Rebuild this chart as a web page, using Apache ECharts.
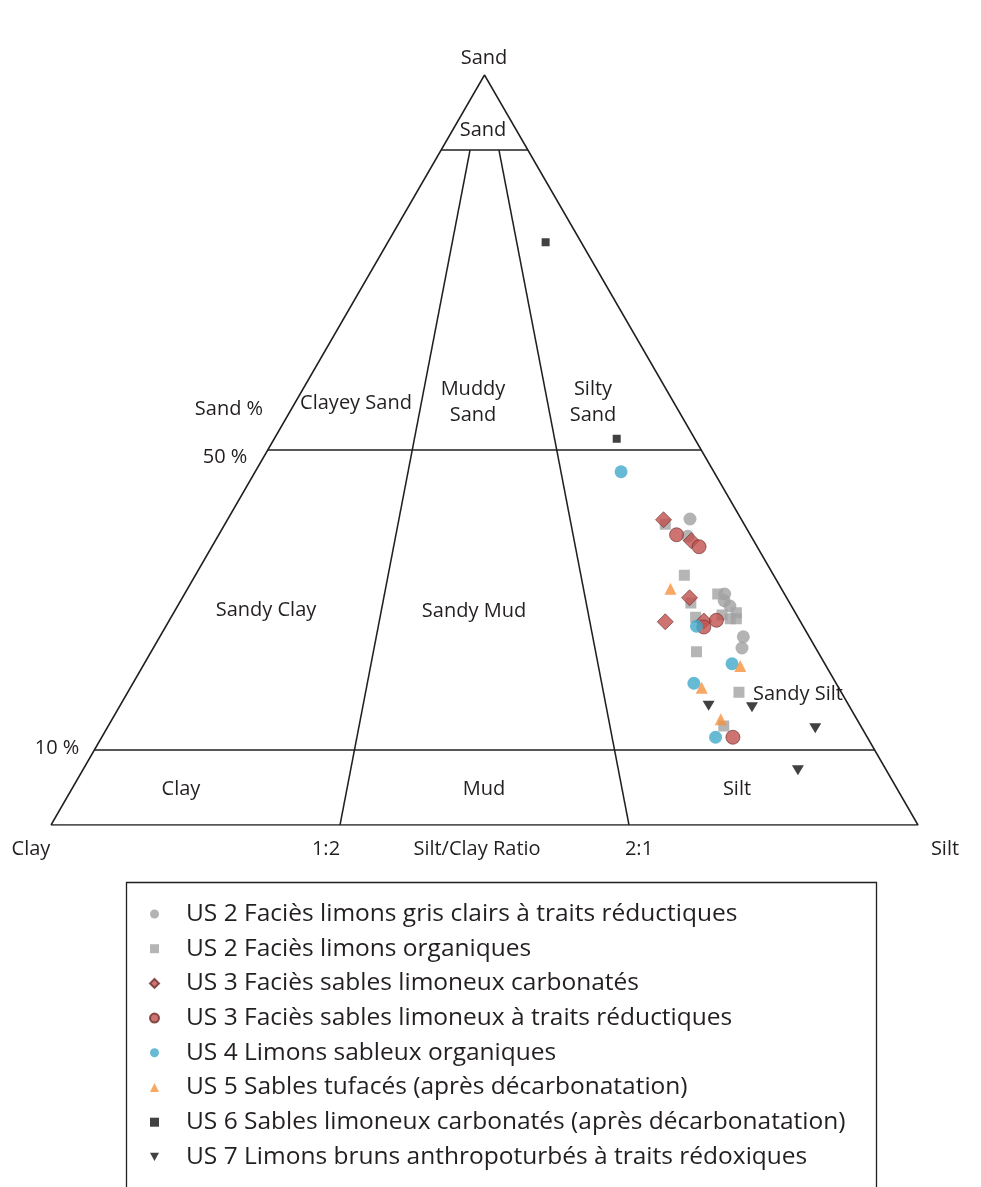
<!DOCTYPE html>
<html>
<head>
<meta charset="utf-8">
<script src="https://cdn.jsdelivr.net/npm/echarts@6/dist/echarts.min.js"></script>
<style>
html,body{margin:0;padding:0;background:#fff;}
#c{width:981px;height:1187px;}
</style>
</head>
<body>
<div id="c"></div>
<script>
// ---- Data: [sand %, silt %] (clay = 100 - sand - silt) ----
const seriesNames = [
  'US 2 Faciès limons gris clairs à traits réductiques',
  'US 2 Faciès limons organiques',
  'US 3 Faciès sables limoneux carbonatés',
  'US 3 Faciès sables limoneux à traits réductiques',
  'US 4 Limons sableux organiques',
  'US 5 Sables tufacés (après décarbonatation)',
  'US 6 Sables limoneux carbonatés (après décarbonatation)',
  'US 7 Limons bruns anthropoturbés à traits rédoxiques'
];
const us2Gris = [[40.8,53.3],[38.5,54.2],[30.8,62.3],[29.9,62.7],[29.2,63.7],[25.1,67.3],[23.6,67.9]];
const us2Org = [[40.1,50.8],[33.3,56.4],[29.6,59.0],[30.8,61.5],[28.3,64.9],[28.0,63.4],[27.5,64.6],[27.5,65.3],[27.7,60.5],[23.1,62.9],[17.7,70.5],[13.2,71.0]];
const us3Carb = [[40.7,50.3],[37.9,54.9],[30.3,58.5],[27.1,57.3],[27.2,61.7]];
const us3Red = [[38.7,52.8],[37.1,56.2],[27.3,63.1],[26.4,62.1],[11.7,72.8]];
const us4 = [[47.1,42.2],[26.5,61.2],[21.5,67.8],[18.9,64.7],[11.7,70.8]];
const us5 = [[31.5,55.7],[21.2,68.9],[18.3,65.9],[14.1,70.2]];
const us6 = [[77.7,18.2],[51.5,39.5]];
const us7 = [[15.9,67.9],[15.7,73.0],[12.9,81.7],[7.3,82.5]];

// Folk classification boundaries
const sandLevels = [10, 50, 90];      // sand % class limits
const ratioLimits = [0.5, 2];         // silt/clay ratio limits (1:2, 2:1)
const ratioStopSand = 90;             // ratio lines stop at the sand class limit

// ---- ternary -> cartesian (x: 0..100 base, y: sand %) ----
function tern(sand, silt) { return [silt + sand / 2, sand]; }

const lineStyle = { color: '#231f20', width: 1.5 };
function lineSeries(pts) {
  return { type: 'line', data: pts, symbol: 'none', silent: true, lineStyle: lineStyle,
           animation: false, legendHoverLink: false, z: 1 };
}
const frameSeries = [];
frameSeries.push(lineSeries([tern(0, 0), tern(0, 100), tern(100, 0), tern(0, 0)]));
sandLevels.forEach(s => frameSeries.push(lineSeries([tern(s, 0), tern(s, 100 - s)])));
ratioLimits.forEach(r => {
  const f = r / (1 + r);
  frameSeries.push(lineSeries([tern(0, 100 * f), tern(ratioStopSand, (100 - ratioStopSand) * f)]));
});

const downTri = 'path://M0,0 L10,0 L5,9 Z';
const styles = [
  { symbol: 'circle', size: 13, color: '#a0a0a0', border: null },
  { symbol: 'rect', size: 11, color: '#a3a3a3', border: null },
  { symbol: 'diamond', size: 16, color: '#c0504d', border: '#6a2b2a' },
  { symbol: 'circle', size: 14, color: '#c0504d', border: '#6a2b2a' },
  { symbol: 'circle', size: 13, color: '#40a9c9', border: null },
  { symbol: 'triangle', size: 12, color: '#f6923f', border: null },
  { symbol: 'rect', size: 8, color: '#111111', border: null },
  { symbol: downTri, size: [12, 10], color: '#111111', border: null }
];
const datasets = [us2Gris, us2Org, us3Carb, us3Red, us4, us5, us6, us7];

const pointSeries = datasets.map((d, i) => ({
  name: seriesNames[i],
  type: 'scatter',
  data: d.map(p => tern(p[0], p[1])),
  symbol: styles[i].symbol,
  symbolSize: styles[i].size,
  itemStyle: {
    color: styles[i].color,
    borderColor: styles[i].border || styles[i].color,
    borderWidth: styles[i].border ? 0.8 : 0
  },
  z: 3 + i,
  animation: false
}));

const FONT = '"Open Sans", "Noto Sans", sans-serif';
const TXT = '#231f20';
function label(text, x, y, size) {
  return { type: 'text', x: x, y: y, silent: true,
    style: { text: text, fill: TXT, fontSize: size || 20, fontFamily: FONT,
             textAlign: 'center', textVerticalAlign: 'middle', lineHeight: 26 } };
}

const chart = echarts.init(document.getElementById('c'), null, { renderer: 'canvas' });
chart.setOption({
  backgroundColor: '#ffffff',
  animation: false,
  grid: { left: 51, top: 75, width: 867, height: 750, containLabel: false },
  xAxis: { type: 'value', min: 0, max: 100, show: false },
  yAxis: { type: 'value', min: 0, max: 100, show: false },
  legend: {
    orient: 'vertical', left: 149, top: 901, padding: 0,
    itemWidth: 9, itemHeight: 9, itemGap: 8.7,
    data: seriesNames,
    textStyle: { fontSize: 24.5, fontFamily: FONT, color: TXT, lineHeight: 26, padding: [0, 0, 0, 22] },
    selectedMode: false
  },
  graphic: [
    { type: 'rect', shape: { x: 126.5, y: 882.5, width: 750, height: 400 }, silent: true,
      style: { fill: 'none', stroke: '#231f20', lineWidth: 1.3 } },
    label('Sand', 484, 58),
    label('Sand', 483, 130),
    label('Clayey Sand', 356, 403),
    label('Muddy\nSand', 473, 402),
    label('Silty\nSand', 593, 402),
    label('Sand %', 229, 409),
    label('50 %', 225, 457),
    label('Sandy Clay', 266, 610),
    label('Sandy Mud', 474, 611),
    label('Sandy Silt', 798, 694),
    label('10 %', 57, 748),
    label('Clay', 181, 789),
    label('Mud', 484, 789),
    label('Silt', 737, 789),
    label('Clay', 31, 849),
    label('1:2', 326, 849),
    label('Silt/Clay Ratio', 477, 849),
    label('2:1', 639, 849),
    label('Silt', 945, 849)
  ],
  series: frameSeries.concat(pointSeries)
});
</script>
</body>
</html>
